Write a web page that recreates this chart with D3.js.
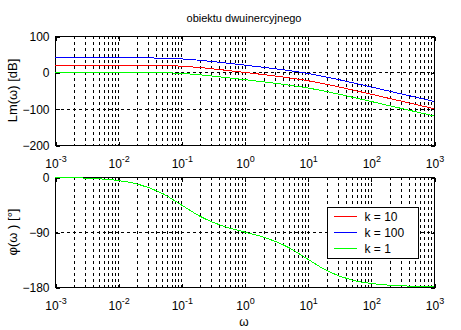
<!DOCTYPE html>
<html>
<head>
<meta charset="utf-8">
<script src="https://cdn.jsdelivr.net/npm/d3@7"></script>
<style>
  html, body { margin: 0; padding: 0; background: #fff; }
  svg { display: block; font-family: "Liberation Sans", Arial, Helvetica, sans-serif; }
  .grid line { stroke: #000; stroke-width: 1; stroke-dasharray: 3,3; shape-rendering: crispEdges; }
  .axis path, .axis line { stroke: #000; shape-rendering: crispEdges; }
  .axis text { font-size: 12px; fill: #000; }
</style>
</head>
<body>
<svg id="chart" width="461" height="330"></svg>
<script>
// Frequency points (rad/s)
const omega = [0.001, 0.002, 0.005, 0.01, 0.02, 0.05, 0.1, 0.2, 0.5, 1, 2, 5, 10, 20, 50, 100, 200, 500, 1000];

// Log-magnitude Lm(ω) in dB for each gain k
const lmK10  = [20, 20, 20, 19.96, 19.83, 19.03, 17.0, 13.0, 5.8, -0.1, -6.2, -15.0, -23.0, -33.0, -48.1, -60.0, -72.1, -88.0, -100.0];
const lmK100 = [40, 40, 40, 39.96, 39.83, 39.03, 37.0, 33.0, 25.8, 19.9, 13.8, 5.0, -3.0, -13.0, -28.1, -40.0, -52.1, -68.0, -80.0];
const lmK1   = [0, 0, 0, -0.04, -0.17, -0.97, -3.0, -7.0, -14.2, -20.1, -26.2, -35.0, -43.0, -53.0, -68.1, -80.0, -92.1, -108.0, -120.0];

// Phase φ(ω) in degrees (identical for every k)
const phK10  = [-0.6, -1.2, -2.9, -5.8, -11.4, -26.9, -45.6, -64.6, -81.6, -90.0, -98.5, -115.4, -134.4, -153.1, -168.6, -174.2, -177.1, -178.8, -179.4];
const phK100 = [-0.6, -1.2, -2.9, -5.8, -11.4, -26.9, -45.6, -64.6, -81.6, -90.0, -98.5, -115.4, -134.4, -153.1, -168.6, -174.2, -177.1, -178.8, -179.4];
const phK1   = [-0.6, -1.2, -2.9, -5.8, -11.4, -26.9, -45.6, -64.6, -81.6, -90.0, -98.5, -115.4, -134.4, -153.1, -168.6, -174.2, -177.1, -178.8, -179.4];

const seriesNames  = ["k = 10", "k = 100", "k = 1"];
const seriesColors = ["#ff0000", "#0000ff", "#00ff00"];

const xDecades   = [1e-3, 1e-2, 1e-1, 1e0, 1e1, 1e2, 1e3];
const lmTicks    = [100, 0, -100, -200];
const phaseTicks = [0, -90, -180];

const titleText = "obiektu dwuinercyjnego";
const lmLabel = "Lm(ω) [dB]";
const phLabel = "φ(ω ) [°]";
const xLabel = "ω";

const svg = d3.select("#chart");
const left = 55, right = 434;

// minor log gridline positions (2..9 in each decade)
const minor = [];
xDecades.slice(0, -1).forEach(d => { for (let m = 2; m <= 9; m++) minor.push(d * m); });

function panel(top, bottom, yDomain, yTicks, series, yLab) {
  const x = d3.scaleLog().domain([1e-3, 1e3]).range([left, right]);
  const y = d3.scaleLinear().domain(yDomain).range([bottom, top]);
  const g = svg.append("g");

  // grid: vertical at decades and minor positions, horizontal at interior y ticks
  const grid = g.append("g").attr("class", "grid");
  grid.selectAll("line.v").data(xDecades.slice(1, -1).concat(minor)).join("line")
    .attr("class", "v")
    .attr("x1", d => Math.round(x(d)) + 0.5).attr("x2", d => Math.round(x(d)) + 0.5)
    .attr("y1", top).attr("y2", bottom);
  grid.selectAll("line.h").data(yTicks.filter(t => t !== yDomain[0] && t !== yDomain[1])).join("line")
    .attr("class", "h")
    .attr("y1", d => Math.round(y(d)) + 0.5).attr("y2", d => Math.round(y(d)) + 0.5)
    .attr("x1", left).attr("x2", right);

  // axes box
  g.append("rect").attr("x", left + 0.5).attr("y", top + 0.5)
    .attr("width", right - left).attr("height", bottom - top)
    .attr("fill", "none").attr("stroke", "#000").attr("shape-rendering", "crispEdges");

  // x axis with superscript decade labels
  const xa = g.append("g").attr("class", "axis").attr("transform", `translate(0.5,${bottom + 0.5})`)
    .call(d3.axisBottom(x).tickValues(xDecades).tickSizeInner(-4).tickSizeOuter(0).tickPadding(7).tickFormat(() => ""));
  xa.select(".domain").remove();
  xa.selectAll(".tick text").each(function (d) {
    const t = d3.select(this).attr("y", 14).attr("text-anchor", "middle");
    t.append("tspan").text("10");
    t.append("tspan").attr("dy", -6).attr("font-size", "9px").text(Math.round(Math.log10(d)));
  });
  // top-side ticks
  g.append("g").attr("class", "axis").attr("transform", `translate(0.5,${top + 0.5})`)
    .call(d3.axisTop(x).tickValues(xDecades).tickSizeInner(-4).tickSizeOuter(0).tickFormat(() => ""))
    .select(".domain").remove();

  // y axis
  const ya = g.append("g").attr("class", "axis").attr("transform", `translate(${left + 0.5},0.5)`)
    .call(d3.axisLeft(y).tickValues(yTicks).tickSizeInner(-4).tickSizeOuter(0).tickPadding(6));
  ya.select(".domain").remove();
  g.append("g").attr("class", "axis").attr("transform", `translate(${right + 0.5},0.5)`)
    .call(d3.axisRight(y).tickValues(yTicks).tickSizeInner(-4).tickSizeOuter(0).tickFormat(() => ""))
    .select(".domain").remove();

  // data lines
  const line = d3.line().x((d, i) => x(omega[i])).y(d => y(d)).curve(d3.curveMonotoneX);
  series.forEach((s, i) => {
    g.append("path").attr("d", line(s)).attr("fill", "none")
      .attr("stroke", seriesColors[i]).attr("stroke-width", 1)
      .attr("shape-rendering", "crispEdges");
  });

  // y label
  g.append("text").attr("transform", `translate(17,${(top + bottom) / 2}) rotate(-90)`)
    .attr("text-anchor", "middle").attr("font-size", "13px").text(yLab);
  return { x, y, g };
}

panel(36, 145, [-200, 100], lmTicks, [lmK10, lmK100, lmK1], lmLabel);
panel(177, 287, [-180, 0], phaseTicks, [phK10, phK100, phK1], phLabel);

// title and x label
svg.append("text").attr("x", 244).attr("y", 22).attr("text-anchor", "middle")
  .attr("font-size", "11px").text(titleText);
svg.append("text").attr("x", 244).attr("y", 326).attr("text-anchor", "middle")
  .attr("font-size", "12px").text(xLabel);

// legend
const lg = svg.append("g").attr("transform", "translate(327.5,207.5)");
lg.append("rect").attr("width", 91).attr("height", 51).attr("fill", "#fff").attr("stroke", "#000")
  .attr("shape-rendering", "crispEdges");
seriesNames.forEach((n, i) => {
  const yy = 9 + i * 16;
  lg.append("line").attr("x1", 6).attr("x2", 29).attr("y1", yy).attr("y2", yy)
    .attr("stroke", seriesColors[i]).attr("stroke-width", 1)
    .attr("shape-rendering", "crispEdges");
  lg.append("text").attr("x", 37).attr("y", yy + 4.5).attr("font-size", "12px").text(n);
});
</script>
</body>
</html>
